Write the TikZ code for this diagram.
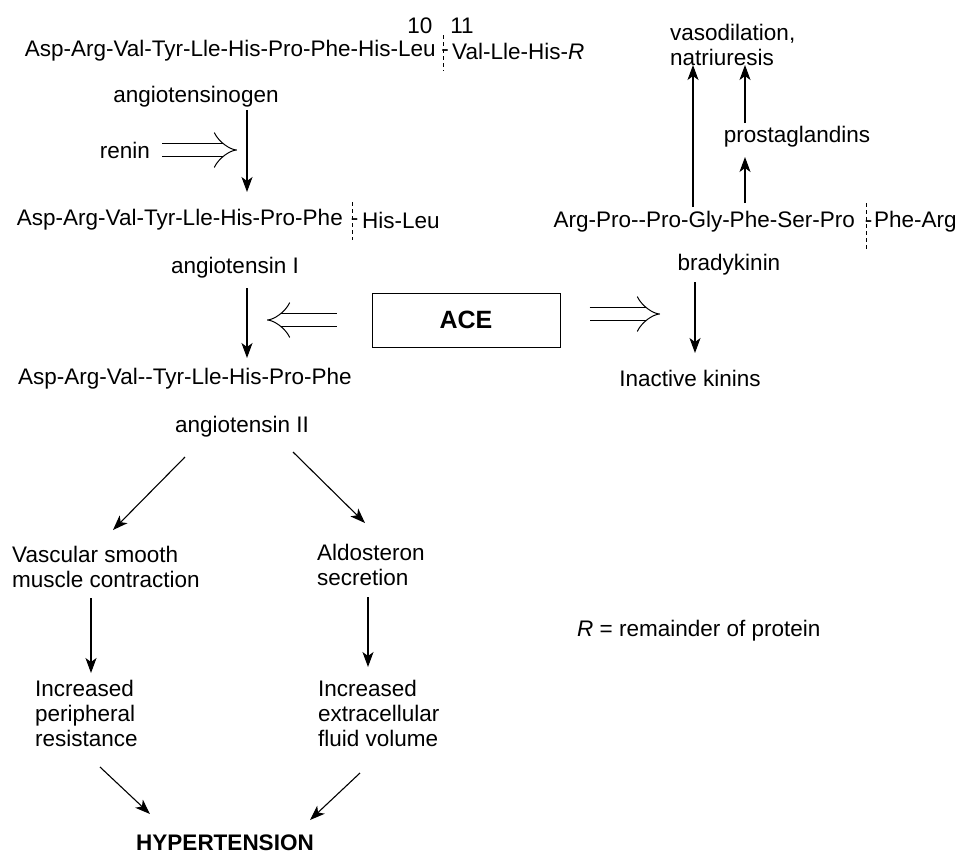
\documentclass[tikz,border=0pt]{standalone}
\usepackage{fontspec}
\setmainfont{Liberation Sans}
\usetikzlibrary{arrows.meta}
\tikzset{
  txt/.style={inner sep=0pt, font=\fontsize{22.5}{25}\selectfont},
  arr/.style={line width=1.1pt, -{Stealth[length=15pt,width=11pt,inset=4pt]}},
  dbl/.style={double, double distance=12pt, line width=1pt, -{Implies}},
  cut/.style={dashed, line width=0.9pt, dash pattern=on 4pt off 3pt},
}
\begin{document}
\begin{tikzpicture}[x=1pt,y=-1pt]
    \useasboundingbox (0,0) rectangle (962,855);
    %ANGIOTENSINOGEN:
     \node[txt, anchor=east] (agenL) at (436,51) {Asp-Arg-Val-Tyr-Lle-His-Pro-Phe-His-Leu};
     \node[txt, anchor=west] (agenR) at (452,51) {Val-Lle-His-\textit{R}};
     \node[txt, anchor=base] (agenC) at ([xshift=9pt]agenL.base east) {-};
     \node[txt] (n10) at (420,26) {10};
     \node[txt] (n11) at (462,26) {11};
     \draw[cut] (443,35) -- (443,71);
     \node[txt] (agen) at (196,97) {angiotensinogen};
     \node[txt] (renin) at (125,150) {renin};
     \coordinate (reninTip) at (237,150);
    %ANGIOTENSIN I:
     \node[txt, anchor=east] (aIL) at (343,220) {Asp-Arg-Val-Tyr-Lle-His-Pro-Phe};
     \node[txt, anchor=west] (aIR) at (362,220) {His-Leu};
     \node[txt, anchor=base] (aIC) at ([xshift=11.5pt]aIL.base east) {-};
     \draw[cut] (352,202) -- (352,240);
     \node[txt] (aI) at (235,268) {angiotensin I};
    %ACE:
     \node[txt, draw, line width=1pt, minimum width=188pt, minimum height=54pt, font=\fontsize{25}{28}\selectfont\bfseries] (ace) at (466,320) {ACE};
     \coordinate (aceTipL) at (267,320);
     \coordinate (aceTipR) at (660,314);
    %ANGIOTENSIN II:
     \node[txt, anchor=west] (aII1) at (18,379) {Asp-Arg-Val-{}-Tyr-Lle-His-Pro-Phe};
     \node[txt] (aII) at (242,427) {angiotensin II};
     \node[txt, anchor=west, align=left] (vsm) at (12,567) {Vascular smooth\\muscle contraction};
     \node[txt, anchor=west, align=left] (ald) at (317,565) {Aldosteron\\secretion};
     \node[txt, anchor=west, align=left] (ipr) at (35,713) {Increased\\peripheral\\resistance};
     \node[txt, anchor=west, align=left] (ief) at (318,713) {Increased\\extracellular\\fluid volume};
     \node[txt, font=\fontsize{22.5}{25}\selectfont\bfseries] (hyp) at (225,843) {HYPERTENSION};
    %BRADYKININ:
     \node[txt, anchor=east] (bkL) at (855,222) {Arg-Pro-{}-Pro-Gly-Phe-Ser-Pro};
     \node[txt, anchor=west] (bkR) at (874,222) {Phe-Arg};
     \node[txt, anchor=base] (bkC) at ([xshift=13.5pt]bkL.base east) {-};
     \draw[cut] (866,203) -- (866,250);
     \node[txt] (bk) at (729,265) {bradykinin};
     \node[txt] (kin) at (690,378) {Inactive kinins};
     \node[txt, anchor=west, align=left] (vaso) at (670,45) {vasodilation,\\natriuresis};
     \node[txt] (prost) at (797,137) {prostaglandins};
     \node[txt, anchor=west] (note) at (577,631) {\textit{R} = remainder of protein};
    %arrows left
     \draw[arr] ([shift={(51,13)}]agen.center) -- ([shift={(-96,-28)}]aIL.east);
     \draw[dbl] (renin.east) ++(12,0) -- (reninTip);
     \draw[arr] ([shift={(12,20)}]aI.center) -- ([shift={(229,-21)}]aII1.west);
     \draw[dbl, shorten <=35pt] (ace.west) -- (aceTipL);
     \draw[arr] ([shift={(-57,30)}]aII.center) -- ([shift={(101,-37)}]vsm.west);
     \draw[arr] ([shift={(51,25)}]aII.center) -- ([shift={(48,-42)}]ald.west);
     \draw[arr] ([shift={(79,31)}]vsm.west) -- ([shift={(56,-40)}]ipr.west);
     \draw[arr] ([shift={(51,32)}]ald.west) -- ([shift={(50,-46)}]ief.west);
     \draw[arr] ([shift={(65,54)}]ipr.west) -- ([shift={(-75,-29)}]hyp.center);
     \draw[arr] ([shift={(42,60)}]ief.west) -- ([shift={(85,-23)}]hyp.center);
    %arrows right
     \draw[dbl] ([shift={(29,-6)}]ace.east) -- (aceTipR);
     \draw[arr] ([shift={(-34,17)}]bk.center) -- ([shift={(5,-25)}]kin.center);
     \draw[arr] ([shift={(-162,-15)}]bkL.east) -- ([shift={(23,20)}]vaso.west);
     \draw[arr] ([shift={(-110,-19)}]bkL.east) -- ([shift={(-52,20)}]prost.center);
     \draw[arr] ([shift={(-52,-14)}]prost.center) -- ([shift={(75,20)}]vaso.west);
\end{tikzpicture}
\end{document}
